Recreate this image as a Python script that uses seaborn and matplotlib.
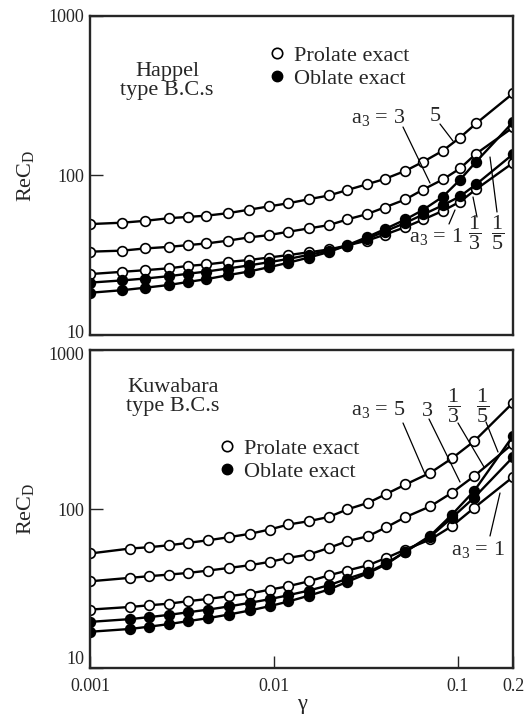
import matplotlib
matplotlib.use("Agg")
import matplotlib.pyplot as plt
from matplotlib.lines import Line2D
from matplotlib.ticker import NullLocator
from matplotlib.transforms import ScaledTranslation
import pandas as pd
import seaborn as sns

# gamma values of the computed points
gamma_happel = [0.001, 0.0015, 0.002, 0.0027, 0.0034, 0.0043, 0.0056, 0.0073, 0.0094, 0.012,
                0.0155, 0.02, 0.025, 0.032, 0.04, 0.052, 0.065, 0.083, 0.103, 0.126, 0.2]
gamma_kuwabara = [0.001, 0.00165, 0.0021, 0.0027, 0.0034, 0.0044, 0.0057, 0.0074, 0.0095, 0.012,
                  0.0155, 0.02, 0.025, 0.0326, 0.041, 0.052, 0.071, 0.093, 0.123, 0.2]

# ReC_D, Happel type boundary conditions
happel_a5 = [49.6, 50.6, 52, 54, 55, 56, 58, 61, 64, 67, 71, 75, 81, 88, 95, 107, 122, 143, 173, 212, 327]
happel_a3 = [33.3, 33.8, 34.9, 35.7, 36.6, 37.5, 39, 40.9, 42.3, 44.4, 46.6, 48.9, 53, 57.2, 63, 70.8,
             81.7, 94.4, 110.7, 137, 200]
happel_a1 = [24.1, 24.9, 25.5, 26.2, 27.1, 27.7, 28.7, 29.5, 30.6, 31.7, 33, 34.4, 36.4, 39, 42.5, 47.5,
             53, 60, 68.5, 82, 120]
happel_a1_3 = [21.3, 22, 22.6, 23.4, 24.2, 25, 26.1, 27.3, 28.6, 30, 31.8, 33.8, 36.3, 40, 44.5, 50.5,
               57, 65, 74, 88, 136]
happel_a1_5 = [18.4, 19.1, 19.8, 20.6, 21.5, 22.4, 23.7, 25, 26.6, 28.4, 30.6, 33.2, 36.5, 41, 46, 53,
               61, 73.6, 94, 122, 216]

# ReC_D, Kuwabara type boundary conditions
kuwabara_a5 = [52.5, 56.4, 57.5, 59.2, 61.2, 63.6, 66.5, 69.8, 74.3, 79.9, 83.8, 89.3, 99.3, 109.4,
               124.5, 142.6, 169, 208, 267, 466]
kuwabara_a3 = [35.1, 36.9, 37.8, 38.7, 39.6, 41, 42.6, 44.3, 46.5, 49.3, 51.7, 57, 62.7, 67.5, 76.9,
               88.9, 104, 126.5, 161, 258]
kuwabara_a1 = [23.3, 24.2, 24.8, 25.4, 26.3, 27.2, 28.3, 29.4, 31.1, 32.7, 35.1, 38.3, 41, 44.3, 49.3,
               55.6, 64.3, 78, 101.7, 159]
kuwabara_a1_3 = [19.5, 20.3, 20.9, 21.6, 22.4, 23.3, 24.4, 25.7, 27.1, 28.7, 30.7, 33.2, 36.4, 40.2,
                 45.5, 54, 67, 88, 118, 212]
kuwabara_a1_5 = [16.9, 17.6, 18.2, 18.9, 19.7, 20.6, 21.7, 23, 24.5, 26.2, 28.5, 31.2, 34.8, 39.5, 45,
                 54, 68, 92, 130, 288]

shapes = ["prolate", "prolate", "prolate", "oblate", "oblate"]   # a3 = 5, 3, 1, 1/3, 1/5
happel = [happel_a5, happel_a3, happel_a1, happel_a1_3, happel_a1_5]
kuwabara = [kuwabara_a5, kuwabara_a3, kuwabara_a1, kuwabara_a1_3, kuwabara_a1_5]

sns.set_style("ticks")
plt.rcParams["font.family"] = ["Liberation Serif", "DejaVu Serif"]
plt.rcParams["mathtext.fontset"] = "custom"
plt.rcParams["mathtext.rm"] = "Liberation Serif"
plt.rcParams["mathtext.it"] = "Liberation Serif:italic"
plt.rcParams["mathtext.bf"] = "Liberation Serif:bold"

W, H = 525, 716
fig = plt.figure(figsize=(W / 100, H / 100), dpi=100)
ax1 = fig.add_axes([90 / W, 1 - 335 / H, 423 / W, 319 / H])
ax2 = fig.add_axes([90 / W, 1 - 668 / H, 423 / W, 318 / H])

fs = 16


def draw_panel(ax, gamma, curves):
    for vals, shape in zip(curves, shapes):
        df = pd.DataFrame({"gamma": gamma, "recd": vals})
        face = "white" if shape == "prolate" else "black"
        sns.lineplot(data=df, x="gamma", y="recd", ax=ax, color="black", lw=1.7,
                     marker="o", markersize=7, markerfacecolor=face,
                     markeredgecolor="black", markeredgewidth=1.2, errorbar=None)
    ax.set_xscale("log")
    ax.set_yscale("log")
    ax.set_xlim(0.001, 0.2)
    ax.set_ylim(10, 1000)
    ax.set_yticks([10, 100, 1000], labels=["10", "100", "1000"])
    ax.set_xticks([0.001, 0.01, 0.1, 0.2], labels=["0.001", "0.01", "0.1", "0.2"])
    ax.xaxis.set_minor_locator(NullLocator())
    ax.yaxis.set_minor_locator(NullLocator())
    ax.tick_params(direction="in", length=9, width=1, labelsize=13, pad=4)
    ax.tick_params(axis="x", pad=7)
    ax.set_ylabel("ReC$_\\mathrm{D}$", fontsize=fs, labelpad=9)
    ax.set_xlabel("")
    for s in ax.spines.values():
        s.set_linewidth(1.7)
        s.set_visible(True)


draw_panel(ax1, gamma_happel, happel)
draw_panel(ax2, gamma_kuwabara, kuwabara)
ax1.tick_params(axis="x", labelbottom=False, length=0)
ax2.set_xlabel("γ", fontsize=fs, labelpad=0)


# nudge the end labels where the two panels meet, as in the original
def nudge(lab, dy_px):
    lab.set_transform(lab.get_transform() + ScaledTranslation(0, dy_px / 100, fig.dpi_scale_trans))


nudge(ax1.get_yticklabels()[0], 3)
nudge(ax2.get_yticklabels()[2], -3)
ax2.get_yticklabels()[0].set_va("bottom")


def px(x, y):
    return (x, H - y)


def label(ax, s, x, y, **kw):
    ax.annotate(s, xy=px(x, y), xycoords="figure pixels", fontsize=fs, **kw)


def leader(ax, x1, y1, x2, y2):
    ax.annotate("", xy=px(x2, y2), xytext=px(x1, y1), xycoords="figure pixels",
                textcoords="figure pixels",
                arrowprops=dict(arrowstyle="-", lw=0.9, color="black", shrinkA=0, shrinkB=0))


# panel titles
label(ax1, "Happel\ntype B.C.s", 167, 81, ha="center", va="center", linespacing=1.0)
label(ax2, "Kuwabara\ntype B.C.s", 173, 397, ha="center", va="center", linespacing=1.0)

# legends
handles = [Line2D([], [], ls="none", marker="o", markersize=7.5, markerfacecolor="white",
                  markeredgecolor="black", markeredgewidth=1.2),
           Line2D([], [], ls="none", marker="o", markersize=7.5, markerfacecolor="black",
                  markeredgecolor="black")]
names = ["Prolate exact", "Oblate exact"]
for ax, bx, by in [(ax1, 0.427, 0.839), (ax2, 0.308, 0.654)]:
    ax.legend(handles, names, loc="center left", bbox_to_anchor=(bx, by), frameon=False,
              fontsize=fs, handlelength=0.6, handletextpad=0.45, labelspacing=0.12,
              borderpad=0, borderaxespad=0)

# Happel annotations
label(ax1, "a$_3$ = 3", 405, 123, ha="right", va="baseline")
label(ax1, "5", 435, 121, ha="center", va="baseline")
leader(ax1, 403, 127, 430, 183)
leader(ax1, 440, 124, 453, 141)
label(ax1, "a$_3$ = 1", 463, 242, ha="right", va="baseline")
label(ax1, "$\\dfrac{1}{3}$", 475, 233, ha="center", va="center")
label(ax1, "$\\dfrac{1}{5}$", 498, 233, ha="center", va="center")
leader(ax1, 449, 224, 455, 210)
leader(ax1, 477, 217, 473, 197)
leader(ax1, 497, 212, 490, 157)

# Kuwabara annotations
label(ax2, "a$_3$ = 5", 405, 415, ha="right", va="baseline")
label(ax2, "3", 427, 416, ha="center", va="baseline")
label(ax2, "$\\dfrac{1}{3}$", 454, 406, ha="center", va="center")
label(ax2, "$\\dfrac{1}{5}$", 483, 406, ha="center", va="center")
leader(ax2, 403, 423, 425, 474)
leader(ax2, 429, 419, 460, 482)
leader(ax2, 458, 423, 484, 467)
leader(ax2, 486, 422, 498, 452)
label(ax2, "a$_3$ = 1", 505, 555, ha="right", va="baseline")
leader(ax2, 490, 536, 500, 493)

fig.savefig("out.png", dpi=100)
